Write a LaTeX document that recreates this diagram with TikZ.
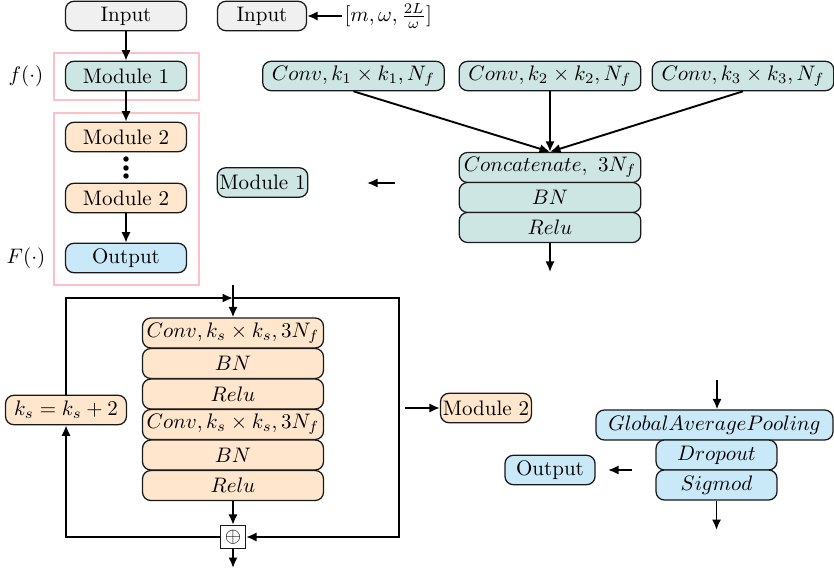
\documentclass[tikz,border=0pt]{standalone}
\usetikzlibrary{arrows.meta}
\definecolor{cgray}{HTML}{F0F0F0}
\definecolor{cteal}{HTML}{CDE6E4}
\definecolor{corange}{HTML}{FFE6CC}
\definecolor{cblue}{HTML}{C9E8F8}
\definecolor{cpink}{HTML}{FFBFC6}
\begin{document}
\begin{tikzpicture}[x=0.4762pt,y=-0.4762pt,
  box/.style={draw=black!90,line width=0.6pt,rounded corners=4pt,minimum height=14pt,inner sep=1pt,align=center},
  stk/.style={box,minimum height=14.3pt},
  arr/.style={line width=0.9pt,-{Latex[length=5pt,width=4.4pt]}},
  pinkbox/.style={draw=cpink,line width=1.1pt},
  plus/.style={draw=black!90,line width=0.6pt,fill=white,minimum width=11.9pt,minimum height=11pt,inner sep=0pt}]
\useasboundingbox (0,0) rectangle (834,576);

% left column
\node[box,fill=cgray,minimum width=57.6pt] (in1) at (126,16) {Input};
\node[box,fill=cteal,minimum width=57.6pt] (m1) at (126,76) {Module 1};
\node[box,fill=corange,minimum width=57.6pt] (m2a) at (126,137) {Module 2};
\node[box,fill=corange,minimum width=57.6pt] (m2b) at (126,198) {Module 2};
\node[box,fill=cblue,minimum width=57.6pt] (out1) at (126,258) {Output};
\draw[pinkbox] (54,53) rectangle (199,100);
\draw[pinkbox] (54,113) rectangle (199,285);
\node (fl) at (26,76) {$f(\cdot)$};
\node (Fl) at (26,258) {$F(\cdot)$};
\fill (126,159) circle (1.3pt) (126,168) circle (1.3pt) (126,176) circle (1.3pt);
\draw[arr] (in1.south) -- (m1.north);
\draw[arr] (m1.south) -- (m2a.north);
\draw[arr] (m2b.south) -- (out1.north);

% input definition
\node[box,fill=cgray,minimum width=42.4pt] (in2) at (262,16) {Input};
\node[anchor=west,inner sep=1pt] (vec) at (342,16) {$[m,\omega,\frac{2L}{\omega}]$};
\draw[arr] (vec.west) -- (in2.east);

% module 1 definition
\node[box,fill=cteal,minimum width=86.5pt] (k1) at (353.5,76) {$Conv, k_1\times k_1, N_f$};
\node[box,fill=cteal,minimum width=86.5pt] (k2) at (550,76) {$Conv, k_2\times k_2, N_f$};
\node[box,fill=cteal,minimum width=86.5pt] (k3) at (743,76) {$Conv, k_3\times k_3, N_f$};
\node[stk,fill=cteal,minimum width=86.5pt] (cat) at (550,167.5) {$Concatenate,\ 3N_f$};
\node[stk,fill=cteal,minimum width=86.5pt] (bn1) at (550,197.5) {$BN$};
\node[stk,fill=cteal,minimum width=86.5pt] (re1) at (550,227.5) {$Relu$};
\coordinate (m1out) at (550,272);
\draw[arr] (k1.south) -- (cat.north);
\draw[arr] (k2.south) -- (cat.north);
\draw[arr] (k3.south) -- (cat.north);
\draw[arr] (re1.south) -- (m1out);
\node[box,fill=cteal,minimum width=42.9pt] (m1b) at (262.5,182.5) {Module 1};
\coordinate (a1s) at (395,183);
\draw[arr] (a1s) -- (367,183);

% module 2 definition
\node[stk,fill=corange,minimum width=86.2pt] (c1) at (233,333) {$Conv, k_s\times k_s, 3N_f$};
\node[stk,fill=corange,minimum width=86.2pt] (b1) at (233,363.5) {$BN$};
\node[stk,fill=corange,minimum width=86.2pt] (r1) at (233,394) {$Relu$};
\node[stk,fill=corange,minimum width=86.2pt] (c2) at (233,424.5) {$Conv, k_s\times k_s, 3N_f$};
\node[stk,fill=corange,minimum width=86.2pt] (b2) at (233,455) {$BN$};
\node[stk,fill=corange,minimum width=86.2pt] (r2) at (233,485.5) {$Relu$};
\node[plus] (op) at (233,537) {$\oplus$};
\node[box,fill=corange,minimum width=57.6pt] (ks) at (66,410) {$k_s=k_s+2$};
\coordinate (inTop) at (233,285);
\coordinate (top) at (233,298);
\coordinate (tr) at (399,298);
\coordinate (outBot) at (233,568);
\draw[arr] (inTop) -- (c1.north);
\draw[arr] (r2.south) -- (op.north);
\draw[arr] (op.south) -- (outBot);
\draw[arr] (op.west) -| (ks.south);
\draw[arr] (ks.north) |- (top);
\draw[arr] (top) -- (tr) |- (op.east);
\node[box,fill=corange,minimum width=43.3pt] (m2r) at (486,408) {Module 2};
\coordinate (a2s) at (405,408);
\draw[arr] (a2s) -- (m2r.west);

% output definition
\coordinate (gin) at (717,380);
\node[stk,fill=cblue,minimum width=112.9pt] (gap) at (714.5,425) {$GlobalAveragePooling$};
\node[stk,fill=cblue,minimum width=57.6pt] (dr) at (716.5,455) {$Dropout$};
\node[stk,fill=cblue,minimum width=57.6pt] (sg) at (716.5,485) {$Sigmod$};
\coordinate (gout) at (716.5,530);
\draw[arr] (gin) -- (gin |- gap.north);
\draw[arr] (sg.south) -- (gout);
\node[box,fill=cblue,minimum width=42.9pt] (out2) at (550,470) {Output};
\coordinate (a3s) at (632,470);
\draw[arr] (a3s) -- (608,470);
\end{tikzpicture}
\end{document}
